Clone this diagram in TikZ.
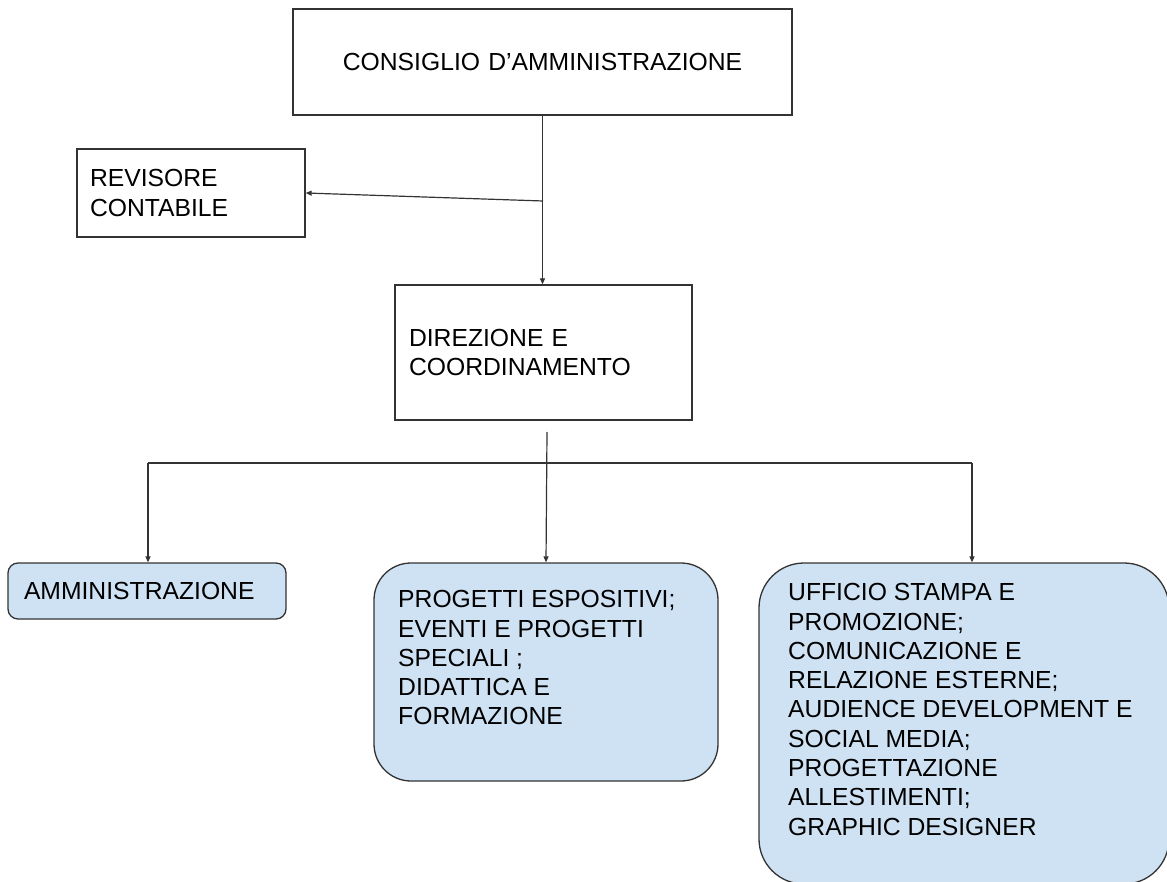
\documentclass[tikz,border=0pt]{standalone}
\usepackage{fontspec}
\setmainfont{Liberation Sans}
\usetikzlibrary{arrows.meta}
\definecolor{boxblue}{HTML}{CFE2F3}
\definecolor{edgegray}{HTML}{333333}
\begin{document}
\begin{tikzpicture}[x=1pt,y=-1pt,
  every node/.style={font=\fontsize{24.7}{29.3}\selectfont, text=black},
  plainbox/.style={draw=edgegray, line width=1.3pt, rectangle, inner ysep=0pt},
  bluebox/.style={draw=edgegray, fill=boxblue, line width=1.3pt, rectangle},
  conn/.style={draw=edgegray, line width=1.2pt},
  arr/.style={conn, -{Triangle[length=6pt,width=5pt]}},
  boxtext/.style={anchor=north west, inner sep=0pt, align=left}
]
\useasboundingbox (0,0) rectangle (1167,882);
\clip (0,0) rectangle (1167,882);
\fill[white] (0,0) rectangle (1167,882);

% boxes
\node[plainbox, minimum width=499pt, minimum height=106pt, text width=469pt, inner xsep=15pt, align=center] (top) at (542.5,62) {CONSIGLIO D’AMMINISTRAZIONE};
\node[plainbox, minimum height=88pt, text width=202pt, inner xsep=13pt, align=left] (rev) at (191,193) {REVISORE\\CONTABILE};
\node[plainbox, minimum height=135pt, text width=269pt, inner xsep=14pt, align=left] (dir) at (543.5,352.5) {DIREZIONE E\\COORDINAMENTO};
\node[bluebox, rounded corners=10pt, minimum height=56pt, text width=246pt, inner xsep=16pt, inner ysep=0pt, align=left] (amm) at (147,591) {AMMINISTRAZIONE};
\node[bluebox, rounded corners=37pt, minimum width=344pt, minimum height=218pt, inner sep=0pt] (mid) at (546,672) {};
\node[bluebox, rounded corners=45pt, minimum width=410pt, minimum height=321pt, inner sep=0pt] (right) at (964,723.5) {};

% texts of the big boxes
\node[boxtext] (midtext) at (398,590.3) {PROGETTI ESPOSITIVI;\\EVENTI E PROGETTI\\SPECIALI ;\\DIDATTICA E\\FORMAZIONE};
\node[boxtext] (righttext) at (788,583.3) {UFFICIO STAMPA E\\PROMOZIONE;\\COMUNICAZIONE E\\RELAZIONE ESTERNE;\\AUDIENCE DEVELOPMENT E\\SOCIAL MEDIA;\\PROGETTAZIONE\\ALLESTIMENTI;\\GRAPHIC DESIGNER};

% connectors
\coordinate (j1) at (543,201);
\coordinate (d0) at (547,432);
\coordinate (h1) at (148,463);
\coordinate (h2) at (972,463);
\draw[arr] (top.south) -- (top.south |- dir.north);
\draw[arr] (j1) -- (rev.east);
\draw[arr] (d0) -- (mid.north);
\draw[conn] (h1) -- (h2);
\draw[arr] (h1) -- (h1 |- amm.north);
\draw[arr] (h2) -- (h2 |- right.north);
\end{tikzpicture}
\end{document}
